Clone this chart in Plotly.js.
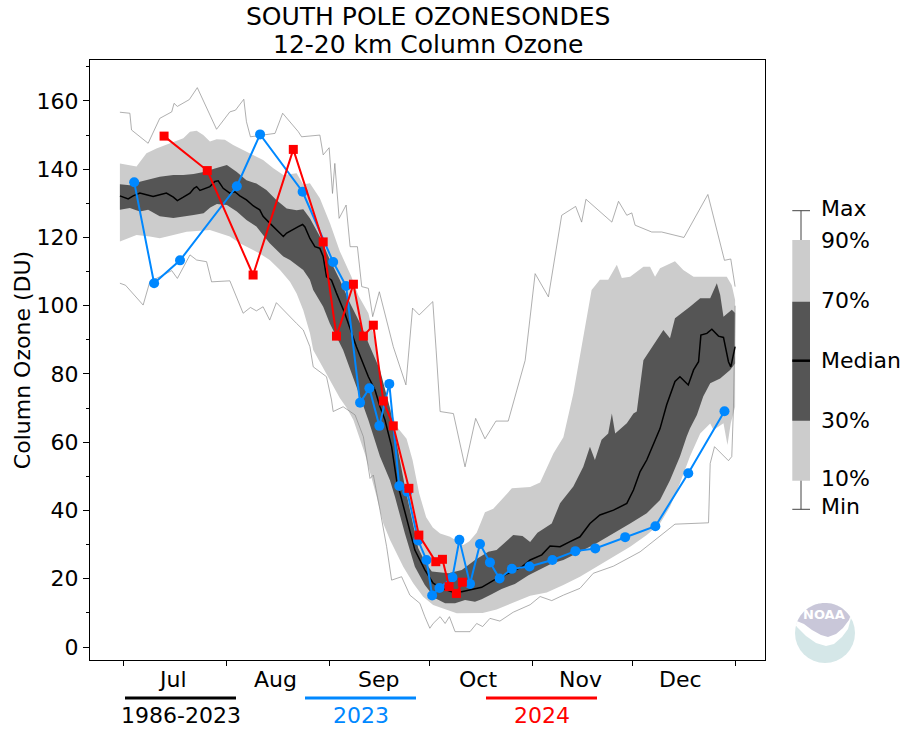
<!DOCTYPE html>
<html>
<head>
<meta charset="utf-8">
<script src="https://cdn.plot.ly/plotly-3.0.1.min.js"></script>
<style>html,body{margin:0;padding:0;background:#fff;}#chart{width:900px;height:750px;}</style>
</head>
<body>
<div id="chart"></div>
<script>
// ---------------- DATA (x = day of year, y = DU) ----------------
const monthStarts = [182, 213, 244, 274, 305, 335, 366];
const monthNames = ['Jul', 'Aug', 'Sep', 'Oct', 'Nov', 'Dec'];
const yTickVals = [0, 20, 40, 60, 80, 100, 120, 140, 160];

const maxDay = [180.8,183.8,184.3,189.3,192.8,196.4,197.1,198.1,201.7,204.1,209.9,213.9,215.6,218.1,218.9,220.1,227.5,229.8,234.5,235.5,241.0,242.0,243.8,244.8,245.5,246.8,248.9,250.1,252.3,253.6,255.6,256.9,258.9,263.1,266.9,268.9,270.9,275.0,276.0,277.2,281.2,284.7,287.9,290.7,294.0,297.7,302.8,305.8,309.8,313.8,318.0,319.8,321.1,328.9,330.9,333.4,334.9,335.9,340.9,343.9,350.6,357.8,362.8,364.7,366.0];
const maxVal = [156.7,156.4,151.5,147.6,154.9,156.8,159.3,158.4,160.4,163.9,151.7,156.8,157.3,160.5,153.9,149.5,150.5,156.4,151.0,149.5,150.0,144.2,146.3,132.9,141.7,125.6,129.5,117.3,117.3,105.6,105.1,96.8,104.1,88.0,76.8,99.3,97.3,101.2,87.0,69.0,68.4,52.8,67.0,61.0,66.2,66.2,84.0,109.4,102.6,126.5,129.1,124.5,131.2,124.5,130.6,126.5,127.2,123.6,121.6,121.6,120.0,132.6,113.3,113.7,105.6];

const minDay = [180.8,182.5,187.8,189.8,192.8,196.4,198.1,201.9,203.9,206.9,208.4,213.9,217.9,220.1,221.9,223.9,225.9,227.9,234.0,236.0,238.0,238.5,239.0,243.0,244.5,245.0,248.0,251.6,254.1,256.1,257.1,259.1,261.1,262.6,265.6,268.1,271.1,272.6,274.1,275.1,277.2,278.7,280.0,281.7,286.2,288.2,290.0,292.2,295.2,299.2,304.3,307.3,310.8,314.3,319.3,323.3,329.4,337.4,342.4,347.9,358.0,358.5,359.8,364.0,365.0,365.5,366.0];
const minVal = [106.6,106.0,100.2,107.0,108.5,110.3,108.0,114.9,113.4,112.9,107.0,107.3,97.8,99.5,98.5,99.7,95.8,100.9,94.8,92.9,88.0,85.1,82.1,79.2,72.4,69.0,70.4,68.0,61.6,49.4,50.4,40.1,29.4,19.6,20.6,15.2,12.8,8.9,5.5,6.9,8.9,6.9,8.9,4.5,4.5,6.9,6.0,8.4,7.6,10.2,12.4,14.8,13.6,15.2,17.2,21.6,23.7,27.9,31.8,36.0,36.4,53.8,58.7,54.6,55.8,70.0,100.0];

const p90Day = [180.8,185.8,188.8,191.8,195.9,199.9,201.9,203.9,205.9,207.9,209.9,212.4,214.9,217.9,220.9,223.9,227.0,230.0,234.0,236.0,238.0,241.0,244.1,247.0,250.5,252.6,255.6,257.5,258.6,261.0,264.1,267.1,268.9,270.9,273.0,275.0,277.2,280.2,284.2,286.0,288.2,290.7,293.2,296.2,298.8,304.3,307.3,311.3,314.3,317.3,319.3,321.3,322.8,325.3,327.8,330.4,331.9,334.4,338.4,340.4,341.9,343.4,347.9,350.4,353.5,358.5,363.5,365.0,366.0];
const p90Val = [141.7,140.8,144.7,146.1,147.6,149.1,151.0,151.3,150.0,148.1,148.8,148.6,147.1,145.7,144.2,142.7,140.3,138.3,138.8,135.5,135.9,131.5,124.0,116.0,108.5,103.0,97.8,90.0,82.1,73.0,64.6,61.0,54.8,45.0,38.0,35.0,33.3,32.3,29.9,31.0,33.5,39.5,40.5,43.8,46.5,46.9,48.2,56.7,61.5,74.3,85.1,95.8,104.6,107.6,107.6,112.0,108.1,108.5,111.4,111.4,108.5,111.0,113.0,110.5,108.5,108.5,108.5,106.0,101.7];

const p10Day = [180.8,185.8,189.8,192.8,196.9,200.9,204.9,207.9,210.9,213.9,216.9,219.9,222.9,225.9,229.0,232.0,234.0,236.0,238.0,239.0,243.0,247.0,249.1,251.1,252.1,254.6,258.1,260.1,262.1,264.1,266.1,269.1,272.1,275.1,278.1,282.2,286.2,290.0,294.2,299.0,304.3,309.3,314.3,319.3,324.3,329.4,334.4,339.4,343.4,346.4,349.4,352.4,355.5,358.5,359.5,362.5,363.7,364.7,366.0];
const p10Val = [118.8,120.7,120.3,119.8,120.7,121.7,122.0,122.2,121.2,120.3,118.3,116.8,115.3,113.4,110.5,107.0,103.6,98.7,92.0,87.0,80.0,73.0,70.0,66.5,63.6,56.5,44.0,36.2,31.4,27.4,23.5,18.7,14.7,12.3,11.3,9.9,9.9,10.0,11.0,13.0,15.0,16.0,18.2,20.6,23.5,26.5,29.4,32.8,36.2,41.1,48.0,55.8,62.6,65.5,63.6,65.6,59.2,65.6,70.4];

const p70Day = [180.8,183.8,186.8,189.3,192.8,196.9,199.9,203.0,206.0,209.4,213.0,216.0,218.9,221.9,224.9,227.9,231.0,234.0,236.0,238.0,241.0,244.0,247.0,250.1,253.1,256.1,259.1,262.1,264.0,266.6,268.6,270.6,272.6,274.7,279.7,283.7,287.7,291.7,294.2,299.2,302.0,304.3,306.5,309.3,310.8,313.3,317.3,320.3,322.3,323.8,325.8,327.8,328.9,329.9,333.4,335.4,336.4,338.4,342.4,344.4,346.4,347.9,352.4,355.5,358.5,360.5,361.5,362.5,365.0,366.0];
const p70Val = [135.6,135.3,136.3,137.0,137.8,138.3,138.3,138.6,139.2,140.2,141.2,139.2,136.8,135.8,133.9,131.0,128.5,128.0,128.3,125.6,120.3,113.5,107.6,100.7,94.9,88.0,81.2,70.0,60.0,47.0,38.0,29.0,25.0,22.1,21.6,22.6,25.5,27.9,28.4,32.8,32.5,30.8,33.5,35.3,36.2,42.1,47.0,52.8,58.7,54.8,60.7,62.6,68.4,62.6,65.6,68.4,69.0,84.0,89.9,92.9,90.5,96.3,99.7,102.2,102.2,106.6,103.2,96.8,98.8,97.9];

const p30Day = [180.8,183.8,186.8,189.3,192.8,196.9,199.9,203.0,206.0,208.0,210.0,213.0,216.0,218.9,221.9,223.9,225.9,227.9,230.0,232.0,234.0,236.0,238.0,239.0,242.0,244.0,248.0,252.0,255.6,259.1,262.1,263.6,266.6,269.6,272.6,275.7,278.7,281.7,284.7,287.7,289.7,292.7,295.7,299.7,303.8,307.8,310.8,314.3,319.3,324.3,329.4,334.4,339.4,343.4,346.4,349.4,351.4,352.4,354.5,356.4,358.5,361.5,364.5,366.0];
const p30Val = [128.1,128.6,127.6,128.1,126.2,125.7,126.2,126.6,127.1,128.8,129.8,129.5,127.6,125.1,123.2,120.7,118.3,116.3,114.4,113.4,112.0,110.5,107.6,104.6,99.7,94.8,87.0,76.3,66.5,55.8,48.9,44.0,33.3,23.5,18.2,14.3,12.8,12.8,13.8,13.3,14.0,15.5,17.0,18.5,21.0,23.0,24.5,25.5,27.9,30.4,33.3,36.2,39.2,43.1,48.9,55.8,61.6,64.0,68.0,73.4,77.3,78.7,81.2,83.1];

const medDay = [180.8,183.3,184.8,186.8,188.8,190.8,192.8,194.8,196.9,198.1,199.9,201.9,203.1,203.9,204.9,206.4,207.9,209.4,210.4,211.9,213.9,215.4,216.9,218.9,220.9,222.9,223.9,225.9,227.9,230.0,231.0,233.0,234.5,235.8,236.5,238.0,239.5,241.0,242.0,243.0,244.5,246.0,248.5,252.0,255.6,257.6,259.1,260.6,262.6,264.1,266.6,269.6,272.6,275.1,277.7,280.7,283.7,286.7,289.7,293.8,297.7,301.8,304.3,307.8,310.3,313.3,316.3,319.3,322.3,325.3,329.4,333.4,335.4,337.4,339.4,341.4,343.4,345.4,346.9,347.9,349.4,351.9,353.5,355.0,355.7,357.5,359.0,361.0,362.5,364.0,364.7,366.0];
const medVal = [132.2,131.3,132.2,133.0,132.5,132.0,132.5,133.0,131.8,130.8,131.8,133.0,134.4,134.9,133.8,134.4,134.9,136.4,136.6,134.4,133.0,133.4,132.2,131.0,129.3,128.1,126.2,124.2,122.3,120.3,121.3,122.5,123.2,123.8,123.1,119.7,117.3,116.8,114.4,108.5,107.5,103.7,97.8,88.0,79.2,75.3,70.4,66.5,58.7,48.9,39.2,28.4,22.6,18.7,17.2,16.2,16.2,16.9,17.5,19.8,21.6,23.5,25.5,27.0,29.6,29.4,30.9,32.3,36.2,38.7,40.1,42.1,46.0,51.4,54.8,59.7,64.0,71.0,75.3,77.8,79.2,76.8,81.2,83.6,91.4,91.9,93.1,91.1,90.7,83.6,82.1,88.0];

const y2023Day = [185.1,191.1,198.9,216.0,223.0,235.8,245.0,248.9,253.1,255.9,258.9,261.9,264.9,267.3,270.6,273.1,274.8,277.0,280.9,283.0,286.2,289.2,292.2,295.1,298.8,304.1,311.0,317.9,323.9,332.9,342.0,351.9,362.8];
const y2023Val = [136.2,106.6,113.3,135.0,150.2,133.4,112.8,105.8,71.6,75.8,64.8,77.1,47.2,45.5,31.2,25.5,15.1,17.3,20.4,31.4,18.5,30.2,24.8,20.1,22.9,23.6,25.5,28.1,28.9,32.2,35.4,50.9,69.1];

const y2024Day = [194.1,207.1,220.9,233.0,242.0,246.0,251.1,254.1,257.1,260.1,263.1,267.8,270.8,275.9,277.9,279.9,282.1,283.9];
const y2024Val = [149.7,139.6,109.0,145.8,118.7,91.1,106.3,91.1,94.3,72.1,64.8,46.5,32.8,25.0,25.7,17.7,15.7,19.0];

const seriesNames = ['1986-2023', '2023', '2024'];
const bandLabels = ['Max', '90%', '70%', 'Median', '30%', '10%', 'Min'];

// ---------------- STYLE ----------------
const FONT = 'DejaVu Sans, Liberation Sans, sans-serif';
const C_LIGHT = '#cccccc', C_DARK = '#555555', C_BLUE = '#0088ff', C_RED = '#ff0000', C_MINMAX = '#8c8c8c';

function rev(a) { return a.slice().reverse(); }

const traces = [
  { x: p90Day.concat(rev(p10Day)), y: p90Val.concat(rev(p10Val)), mode: 'lines', fill: 'toself',
    fillcolor: C_LIGHT, line: { width: 0, color: C_LIGHT }, hoverinfo: 'skip' },
  { x: p70Day.concat(rev(p30Day)), y: p70Val.concat(rev(p30Val)), mode: 'lines', fill: 'toself',
    fillcolor: C_DARK, line: { width: 0, color: C_DARK }, hoverinfo: 'skip' },
  { x: maxDay, y: maxVal, mode: 'lines', line: { color: C_MINMAX, width: 0.7 } },
  { x: minDay, y: minVal, mode: 'lines', line: { color: C_MINMAX, width: 0.7 } },
  { x: medDay, y: medVal, mode: 'lines', name: seriesNames[0], line: { color: '#000', width: 1.5 } },
  { x: y2023Day, y: y2023Val, mode: 'lines+markers', name: seriesNames[1],
    line: { color: C_BLUE, width: 2 }, marker: { color: C_BLUE, size: 10, symbol: 'circle' } },
  { x: y2024Day, y: y2024Val, mode: 'lines+markers', name: seriesNames[2],
    line: { color: C_RED, width: 2 }, marker: { color: C_RED, size: 9, symbol: 'square' } }
];

// pixel -> paper helpers (plot area 90..765 x 60..660)
const PX = p => (p - 90) / 675;
const PY = p => (660 - p) / 600;

const annotations = [];
const shapes = [];

// titles
annotations.push({ text: 'SOUTH POLE OZONESONDES', xref: 'paper', yref: 'paper', x: PX(427.5), y: PY(16.5),
  xanchor: 'center', yanchor: 'middle', showarrow: false, font: { family: FONT, size: 25, color: '#000' } });
annotations.push({ text: '12-20 km Column Ozone', xref: 'paper', yref: 'paper', x: PX(427.5), y: PY(44),
  xanchor: 'center', yanchor: 'middle', showarrow: false, font: { family: FONT, size: 25, color: '#000' } });

// month labels (centered mid-month)
monthNames.forEach((m, i) => {
  annotations.push({ text: m, xref: 'x', yref: 'paper', x: monthStarts[i] + 14.5, y: PY(679),
    xanchor: 'center', yanchor: 'middle', showarrow: false, font: { family: FONT, size: 22, color: '#000' } });
});

// bottom legend
const legColors = ['#000000', C_BLUE, C_RED];
const legX = [[125, 236], [305, 416], [486, 597]];
seriesNames.forEach((n, i) => {
  shapes.push({ type: 'line', xref: 'paper', yref: 'paper', x0: PX(legX[i][0]), x1: PX(legX[i][1]),
    y0: PY(698), y1: PY(698), line: { color: legColors[i], width: 3 } });
  annotations.push({ text: n, xref: 'paper', yref: 'paper', x: PX((legX[i][0] + legX[i][1]) / 2), y: PY(715.5),
    xanchor: 'center', yanchor: 'middle', showarrow: false, font: { family: FONT, size: 22, color: legColors[i] } });
});

// right-side percentile key
const kx0 = 792.3, kx1 = 810, kxc = 801;
shapes.push({ type: 'line', xref: 'paper', yref: 'paper', x0: PX(kxc), x1: PX(kxc), y0: PY(210.7), y1: PY(509.3), line: { color: '#444', width: 1 } });
shapes.push({ type: 'line', xref: 'paper', yref: 'paper', x0: PX(kx0), x1: PX(kx1), y0: PY(210.7), y1: PY(210.7), line: { color: '#444', width: 1 } });
shapes.push({ type: 'line', xref: 'paper', yref: 'paper', x0: PX(kx0), x1: PX(kx1), y0: PY(509.3), y1: PY(509.3), line: { color: '#444', width: 1 } });
shapes.push({ type: 'rect', xref: 'paper', yref: 'paper', x0: PX(kx0), x1: PX(kx1), y0: PY(480.7), y1: PY(240), fillcolor: C_LIGHT, line: { width: 0 } });
shapes.push({ type: 'rect', xref: 'paper', yref: 'paper', x0: PX(kx0), x1: PX(kx1), y0: PY(420.7), y1: PY(301.7), fillcolor: C_DARK, line: { width: 0 } });
shapes.push({ type: 'line', xref: 'paper', yref: 'paper', x0: PX(kx0), x1: PX(kx1), y0: PY(360.7), y1: PY(360.7), line: { color: '#000', width: 2.5 } });
const keyY = [208, 240, 300, 360, 420, 479, 506];
bandLabels.forEach((t, i) => {
  annotations.push({ text: t, xref: 'paper', yref: 'paper', x: PX(819), y: PY(keyY[i]),
    xanchor: 'left', yanchor: 'middle', showarrow: false, font: { family: FONT, size: 22, color: '#000' } });
});

// NOAA logo (decorative)
const cx = 825, cy = 633, r = 30;
function arcPts(a0, a1, n) {
  const pts = [];
  for (let k = 0; k <= n; k++) {
    const a = (a0 + (a1 - a0) * k / n) * Math.PI / 180;
    pts.push([cx + r * Math.cos(a), cy - r * Math.sin(a)]);
  }
  return pts;
}
function toPath(pts, extra) {
  let s = 'M ' + pts.map(p => PX(p[0]).toFixed(5) + ',' + PY(p[1]).toFixed(5)).join(' L ');
  if (extra) s += ' L ' + extra.map(p => PX(p[0]).toFixed(5) + ',' + PY(p[1]).toFixed(5)).join(' L ');
  return s + ' Z';
}
shapes.push({ type: 'circle', xref: 'paper', yref: 'paper', x0: PX(cx - r), x1: PX(cx + r), y0: PY(cy + r), y1: PY(cy - r),
  fillcolor: '#d5e7e8', line: { width: 0 } });
// white wing
shapes.push({ type: 'path', xref: 'paper', yref: 'paper', fillcolor: '#ffffff', line: { width: 0 },
  path: toPath(arcPts(30, 165, 30), [[797, 627], [806, 636], [816, 643], [826, 646], [834, 644], [842, 637], [848, 629]]) });
// lavender top
shapes.push({ type: 'path', xref: 'paper', yref: 'paper', fillcolor: '#c9c7d9', line: { width: 0 },
  path: toPath(arcPts(33, 157, 30), [[804, 624], [812, 630], [821, 635], [828, 637], [836, 634], [843, 628], [849, 620]]) });
annotations.push({ text: '<b>NOAA</b>', xref: 'paper', yref: 'paper', x: PX(824), y: PY(614),
  xanchor: 'center', yanchor: 'middle', showarrow: false, font: { family: FONT, size: 13, color: '#ffffff' } });

const layout = {
  width: 900, height: 750,
  margin: { l: 90, r: 135, t: 60, b: 90, pad: 0 },
  paper_bgcolor: '#ffffff', plot_bgcolor: '#ffffff',
  showlegend: false,
  font: { family: FONT, size: 22, color: '#000' },
  xaxis: {
    range: [171.8, 375.0], tickmode: 'array', tickvals: monthStarts, ticktext: monthStarts.map(() => ''),
    ticks: 'outside', ticklen: 5, tickwidth: 1, tickcolor: '#000', showgrid: false, zeroline: false,
    showline: true, linecolor: '#000', linewidth: 1, mirror: true, showticklabels: false
  },
  yaxis: {
    range: [-3.8, 172], tickmode: 'array', tickvals: yTickVals, ticks: 'outside', ticklen: 6, tickwidth: 1,
    tickcolor: '#000', showgrid: false, zeroline: false, showline: true, linecolor: '#000', linewidth: 1,
    mirror: true, tickfont: { family: FONT, size: 22, color: '#000' },
    minor: { tickmode: 'linear', tick0: 10, dtick: 20, ticks: 'outside', ticklen: 3, tickcolor: '#000', showgrid: false },
    title: { text: 'Column Ozone (DU)', font: { family: FONT, size: 22, color: '#000' } }
  },
  shapes: shapes,
  annotations: annotations
};

Plotly.newPlot('chart', traces, layout, { staticPlot: true, displayModeBar: false });
</script>
</body>
</html>
